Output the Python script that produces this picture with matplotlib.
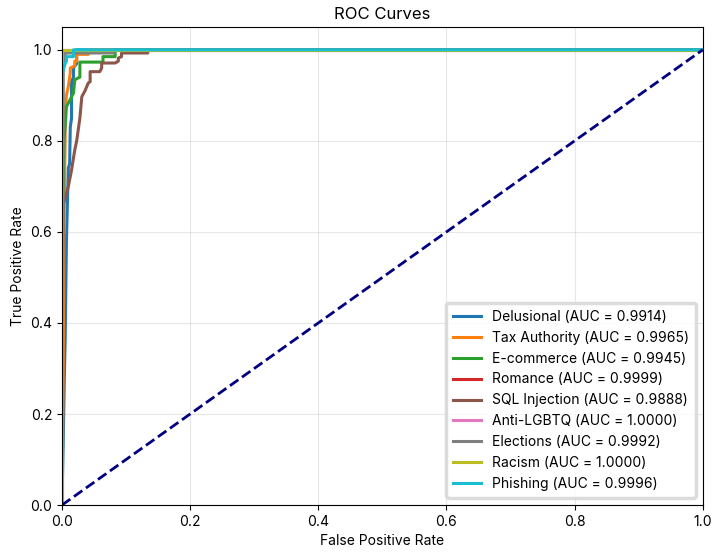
import matplotlib.pyplot as plt

plt.rcParams['font.family'] = ['Inter', 'DejaVu Sans']

labels = ['Delusional', 'Tax Authority', 'E-commerce', 'Romance', 'SQL Injection',
          'Anti-LGBTQ', 'Elections', 'Racism', 'Phishing']
aucs = [0.9914, 0.9965, 0.9945, 0.9999, 0.9888, 1.0000, 0.9992, 1.0000, 0.9996]
colors = ['#1f77b4', '#ff7f0e', '#2ca02c', '#d62728', '#8c564b',
          '#e377c2', '#7f7f7f', '#bcbd22', '#17becf']

fpr_delusional = [0, 0.002, 0.004, 0.005, 0.007, 0.010, 0.012, 0.013, 0.015, 0.015, 0.018, 0.018, 0.023, 0.023, 1]
tpr_delusional = [0, 0.14, 0.30, 0.36, 0.58, 0.74, 0.75, 0.83, 0.85, 0.93, 0.94, 0.96, 0.97, 1.0, 1.0]

fpr_tax = [0, 0.002, 0.003, 0.005, 0.005, 0.007, 0.010, 0.013, 0.013, 0.020, 0.020, 0.023, 0.023, 0.041, 0.041, 1]
tpr_tax = [0, 0.30, 0.60, 0.80, 0.86, 0.90, 0.92, 0.95, 0.96, 0.965, 0.975, 0.975, 0.99, 0.99, 1.0, 1.0]

fpr_ecom = [0, 0.001, 0.003, 0.005, 0.007, 0.010, 0.018, 0.020, 0.025, 0.028, 0.028, 0.064, 0.064, 0.083, 0.083, 1]
tpr_ecom = [0, 0.60, 0.80, 0.83, 0.875, 0.883, 0.905, 0.934, 0.938, 0.94, 0.973, 0.973, 0.985, 0.985, 1.0, 1.0]

fpr_romance = [0, 0, 0.001, 0.001, 1]
tpr_romance = [0, 0.99, 0.99, 1.0, 1.0]

fpr_sql = [0, 0.001, 0.002, 0.010, 0.015, 0.020, 0.023, 0.028, 0.031, 0.036, 0.041, 0.044, 0.044, 0.059,
           0.062, 0.062, 0.083, 0.088, 0.088, 0.093, 0.093, 0.134, 0.134, 1]
tpr_sql = [0, 0.50, 0.66, 0.70, 0.736, 0.78, 0.80, 0.85, 0.897, 0.91, 0.927, 0.93, 0.952, 0.952,
           0.96, 0.971, 0.971, 0.975, 0.982, 0.985, 0.993, 0.993, 1.0, 1.0]

fpr_lgbtq = [0, 0, 1]
tpr_lgbtq = [0, 1.0, 1.0]

fpr_elections = [0, 0.002, 0.002, 0.005, 0.005, 0.080, 0.080, 1]
tpr_elections = [0, 0.90, 0.97, 0.98, 0.993, 0.993, 1.0, 1.0]

fpr_racism = [0, 0, 1]
tpr_racism = [0, 1.0, 1.0]

fpr_phishing = [0, 0.001, 0.003, 0.005, 0.007, 0.007, 0.018, 0.018, 1]
tpr_phishing = [0, 0.95, 0.96, 0.97, 0.975, 0.985, 0.985, 1.0, 1.0]

fprs = [fpr_delusional, fpr_tax, fpr_ecom, fpr_romance, fpr_sql,
        fpr_lgbtq, fpr_elections, fpr_racism, fpr_phishing]
tprs = [tpr_delusional, tpr_tax, tpr_ecom, tpr_romance, tpr_sql,
        tpr_lgbtq, tpr_elections, tpr_racism, tpr_phishing]

fig, ax = plt.subplots(figsize=(7.12, 5.52), dpi=100)
fig.subplots_adjust(left=0.087, right=0.987, bottom=0.085, top=0.951)

for name, auc, c, f, t in zip(labels, aucs, colors, fprs, tprs):
    ax.plot(f, t, lw=2.2, color=c, label=f'{name} (AUC = {auc:.4f})')

ax.plot([0, 1], [0, 1], color='navy', lw=2, linestyle='--')
ax.set_xlim(0, 1)
ax.set_ylim(0, 1.05)
ax.set_xlabel('False Positive Rate')
ax.set_ylabel('True Positive Rate')
ax.set_title('ROC Curves', fontsize=12)
ax.grid(True, alpha=0.3)
leg = ax.legend(loc='lower right', fontsize=10, borderpad=0.5)
leg.get_frame().set_linewidth(2.5)
leg.get_frame().set_edgecolor('#d4d4d4')

plt.savefig('out.png')
